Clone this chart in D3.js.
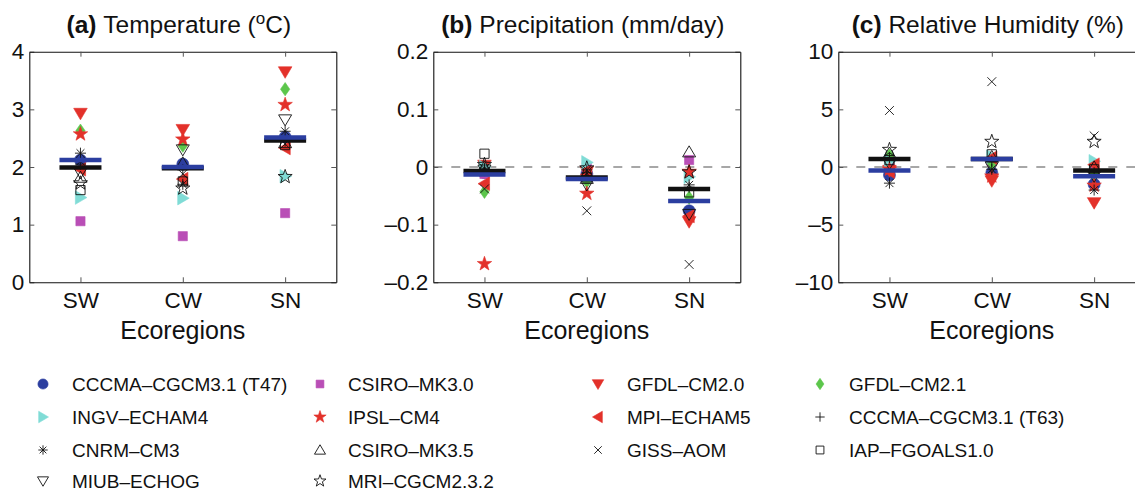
<!DOCTYPE html>
<html>
<head>
<meta charset="utf-8">
<script src="https://cdn.jsdelivr.net/npm/d3@7"></script>
<style>
  body { margin: 0; background: #fff; }
  text { font-family: "Liberation Sans", Arial, Helvetica, sans-serif; fill: #111; }
</style>
</head>
<body>
<svg id="chart" width="1135" height="494"></svg>
<script>
// ---- data ------------------------------------------------------------
const regions = ["SW", "CW", "SN"];

const models = [
  "CCCMA\u2013CGCM3.1 (T47)", "CSIRO\u2013MK3.0", "GFDL\u2013CM2.0", "GFDL\u2013CM2.1",
  "INGV\u2013ECHAM4", "IPSL\u2013CM4", "MPI\u2013ECHAM5", "CCCMA\u2013CGCM3.1 (T63)",
  "CNRM\u2013CM3", "CSIRO\u2013MK3.5", "GISS\u2013AOM", "IAP\u2013FGOALS1.0",
  "MIUB\u2013ECHOG", "MRI\u2013CGCM2.3.2"
];

// change per model, columns follow `regions`
const temperatureChange = [
  [2.12, 2.05, 2.52], [1.06, 0.80, 1.20], [2.93, 2.65, 3.65], [2.63, 2.37, 3.35],
  [1.47, 1.46, 1.84], [2.57, 2.48, 3.08], [1.96, 1.79, 2.33], [2.05, 1.95, 2.45],
  [2.24, 1.70, 2.62], [1.82, 2.07, 2.42], [2.10, 1.88, 2.40], [1.60, 1.75, 2.38],
  [1.90, 2.30, 2.82], [1.72, 1.63, 1.83]
];
const precipitationChange = [
  [-0.010, -0.012, -0.076], [-0.012, 0.000, 0.012], [0.003, -0.008, -0.095], [-0.043, -0.025, -0.053],
  [0.000, 0.008, -0.017], [-0.168, -0.046, -0.008], [-0.029, -0.013, -0.085], [-0.005, -0.015, -0.035],
  [-0.002, -0.005, -0.031], [0.000, -0.020, 0.026], [-0.038, -0.076, -0.169], [0.023, -0.018, -0.044],
  [-0.005, -0.031, -0.082], [0.004, -0.002, -0.009]
];
const humidityChange = [
  [-0.7, -0.5, -1.5], [0.2, 0.5, -0.3], [-0.3, -1.2, -3.1], [1.0, 0.3, -0.6],
  [0.5, 0.9, 0.5], [-0.2, -0.8, -1.6], [-0.4, 0.8, 0.2], [0.8, 0.5, -0.5],
  [-1.4, -0.2, -2.0], [1.2, 0.9, 0.0], [4.9, 7.4, 2.7], [0.6, 1.1, -0.2],
  [0.3, 0.0, -0.8], [1.5, 2.2, 2.2]
];

// ensemble summaries per region
const temperatureMean = [1.99, 1.98, 2.46];
const temperatureWeighted = [2.12, 2.00, 2.51];
const precipitationMean = [-0.007, -0.018, -0.038];
const precipitationWeighted = [-0.013, -0.021, -0.059];
const humidityMean = [0.7, 0.7, -0.3];
const humidityWeighted = [-0.3, 0.7, -0.8];

const temperatureTicks = [0, 1, 2, 3, 4];
const precipitationTicks = [-0.2, -0.1, 0, 0.1, 0.2];
const humidityTicks = [-10, -5, 0, 5, 10];

// ---- marker shapes (custom d3 symbol types; size = half extent) -------
const shape = {
  circle:  { draw(c, r) { c.moveTo(r, 0); c.arc(0, 0, r, 0, 2 * Math.PI); } },
  square:  { draw(c, r) { c.rect(-r, -r, 2 * r, 2 * r); } },
  triDown: { draw(c, r) { c.moveTo(-r, -0.75 * r); c.lineTo(r, -0.75 * r); c.lineTo(0, 0.95 * r); c.closePath(); } },
  triUp:   { draw(c, r) { c.moveTo(-r, 0.75 * r); c.lineTo(r, 0.75 * r); c.lineTo(0, -0.95 * r); c.closePath(); } },
  triRight:{ draw(c, r) { c.moveTo(-0.75 * r, -r); c.lineTo(-0.75 * r, r); c.lineTo(0.95 * r, 0); c.closePath(); } },
  triLeft: { draw(c, r) { c.moveTo(0.75 * r, -r); c.lineTo(0.75 * r, r); c.lineTo(-0.95 * r, 0); c.closePath(); } },
  diamond: { draw(c, r) { c.moveTo(0, -1.15 * r); c.lineTo(0.8 * r, 0); c.lineTo(0, 1.15 * r); c.lineTo(-0.8 * r, 0); c.closePath(); } },
  star: { draw(c, r) {
    const ri = r * 0.40;
    for (let k = 0; k < 10; k++) {
      const a = -Math.PI / 2 + k * Math.PI / 5, rr = k % 2 ? ri : r;
      const px = rr * Math.cos(a), py = rr * Math.sin(a);
      k ? c.lineTo(px, py) : c.moveTo(px, py);
    }
    c.closePath();
  } },
  plus:  { draw(c, r) { c.moveTo(-r, 0); c.lineTo(r, 0); c.moveTo(0, -r); c.lineTo(0, r); } },
  cross: { draw(c, r) { const d = r * 0.8; c.moveTo(-d, -d); c.lineTo(d, d); c.moveTo(-d, d); c.lineTo(d, -d); } },
  asterisk: { draw(c, r) {
    const d = r * 0.72;
    c.moveTo(-r, 0); c.lineTo(r, 0); c.moveTo(0, -r); c.lineTo(0, r);
    c.moveTo(-d, -d); c.lineTo(d, d); c.moveTo(-d, d); c.lineTo(d, -d);
  } }
};

const markerStyle = [
  { type: "circle",   fill: "#2c3e9f", r: 6 },
  { type: "square",   fill: "#b94eb6", r: 4.6 },
  { type: "triDown",  fill: "#e3312a", r: 6.8 },
  { type: "diamond",  fill: "#5cc64b", r: 5.8 },
  { type: "triRight", fill: "#80dcd6", r: 6.8 },
  { type: "star",     fill: "#e3312a", r: 7.6 },
  { type: "triLeft",  fill: "#e3312a", r: 6.8 },
  { type: "plus",     stroke: "#111", r: 5.5 },
  { type: "asterisk", stroke: "#111", r: 5.5 },
  { type: "triUp",    stroke: "#111", r: 6.5 },
  { type: "cross",    stroke: "#111", r: 5.5 },
  { type: "square",   stroke: "#111", r: 4.6 },
  { type: "triDown",  stroke: "#111", r: 6.5 },
  { type: "star",     stroke: "#111", r: 7.4 }
];

function drawMarker(sel, st, scale) {
  const p = sel.append("path")
    .attr("d", d3.symbol().type(shape[st.type]).size(st.r * scale)());
  if (st.fill) p.attr("fill", st.fill).attr("stroke", st.fill).attr("stroke-width", 0.6);
  else p.attr("fill", "none").attr("stroke", st.stroke).attr("stroke-width", 0.9);
  return p;
}

// ---- layout -------------------------------------------------------------
const svg = d3.select("#chart");
const plotTop = 51.7, plotBottom = 282.3, plotWidth = 307;
const fmt = v => (v < 0 ? "\u2013" : "") + Math.abs(v);

const panels = [
  { left: 29.3, letter: "(a)", title: ["Temperature (", "o", "C)"], values: temperatureChange,
    mean: temperatureMean, weighted: temperatureWeighted, ticks: temperatureTicks, zero: false },
  { left: 433.3, letter: "(b)", title: ["Precipitation (mm/day)"], values: precipitationChange,
    mean: precipitationMean, weighted: precipitationWeighted, ticks: precipitationTicks, zero: true },
  { left: 838.3, letter: "(c)", title: ["Relative Humidity (%)"], values: humidityChange,
    mean: humidityMean, weighted: humidityWeighted, ticks: humidityTicks, zero: true }
];

panels.forEach(p => {
  const right = p.left + plotWidth;
  const x = d3.scalePoint().domain(regions).range([p.left, right]).padding(0.5);
  const y = d3.scaleLinear().domain(d3.extent(p.ticks)).range([plotBottom, plotTop]);
  const g = svg.append("g");

  // zero reference line
  if (p.zero) {
    g.append("line")
      .attr("x1", p.left).attr("x2", right).attr("y1", y(0)).attr("y2", y(0))
      .attr("stroke", "#8a8a8a").attr("stroke-width", 1.4).attr("stroke-dasharray", "9,9");
  }

  // axes (ticks point inwards on all four sides)
  const styleAxis = a => {
    a.attr("font-family", null).attr("font-size", 22.5);
    a.select(".domain").attr("stroke", "#111").attr("stroke-width", 1.1);
    a.selectAll(".tick line").attr("stroke", "#555");
    a.selectAll(".tick text").attr("fill", "#111");
  };
  g.append("g").attr("transform", `translate(${p.left},0)`)
    .call(d3.axisLeft(y).tickValues(p.ticks).tickFormat(fmt).tickSize(-5).tickSizeOuter(0).tickPadding(5))
    .call(styleAxis);
  g.append("g").attr("transform", `translate(${right},0)`)
    .call(d3.axisRight(y).tickValues(p.ticks).tickFormat("").tickSize(-5).tickSizeOuter(0))
    .call(styleAxis);
  g.append("g").attr("transform", `translate(0,${plotBottom})`)
    .call(d3.axisBottom(x).tickSize(-5).tickSizeOuter(0).tickPadding(10))
    .call(styleAxis);
  g.append("g").attr("transform", `translate(0,${plotTop})`)
    .call(d3.axisTop(x).tickFormat("").tickSize(-5).tickSizeOuter(0))
    .call(styleAxis);

  // model markers
  p.values.forEach((row, m) => {
    row.forEach((v, k) => {
      drawMarker(g, markerStyle[m], 1)
        .attr("transform", `translate(${x(regions[k])},${y(v)})`);
    });
  });

  // ensemble bars
  const barHalf = 21;
  [[p.mean, "#111"], [p.weighted, "#2b3ea0"]].forEach(([vals, col]) => {
    g.selectAll(null).data(vals).join("line")
      .attr("x1", (d, k) => x(regions[k]) - barHalf)
      .attr("x2", (d, k) => x(regions[k]) + barHalf)
      .attr("y1", d => y(d)).attr("y2", d => y(d))
      .attr("stroke", col).attr("stroke-width", 4.5);
  });

  // title
  const t = g.append("text").attr("x", (p.left + right) / 2 - 4).attr("y", 33)
    .attr("text-anchor", "middle").attr("font-size", 24.5);
  t.append("tspan").attr("font-weight", "bold").text(p.letter + " ");
  t.append("tspan").text(p.title[0]);
  if (p.title.length > 1) {
    t.append("tspan").attr("font-size", 17).attr("dy", -9).text(p.title[1]);
    t.append("tspan").attr("dy", 9).text(p.title[2]);
  }

  // x axis label
  g.append("text").attr("x", (p.left + right) / 2).attr("y", 339)
    .attr("text-anchor", "middle").attr("font-size", 25).text("Ecoregions");
});

// ---- legend ---------------------------------------------------------------
const legendMarkerX = [43, 320, 598, 820];
const legendTextX = [72, 348, 627, 849];
const legendRowY = [384, 417, 450, 481];
const legend = svg.append("g");
models.forEach((name, m) => {
  const col = m % 4, row = Math.floor(m / 4);
  drawMarker(legend, markerStyle[m], 0.85)
    .attr("transform", `translate(${legendMarkerX[col]},${legendRowY[row]})`);
  legend.append("text").attr("x", legendTextX[col]).attr("y", legendRowY[row])
    .attr("dy", "0.36em").attr("font-size", 19).text(name);
});
</script>
</body>
</html>
